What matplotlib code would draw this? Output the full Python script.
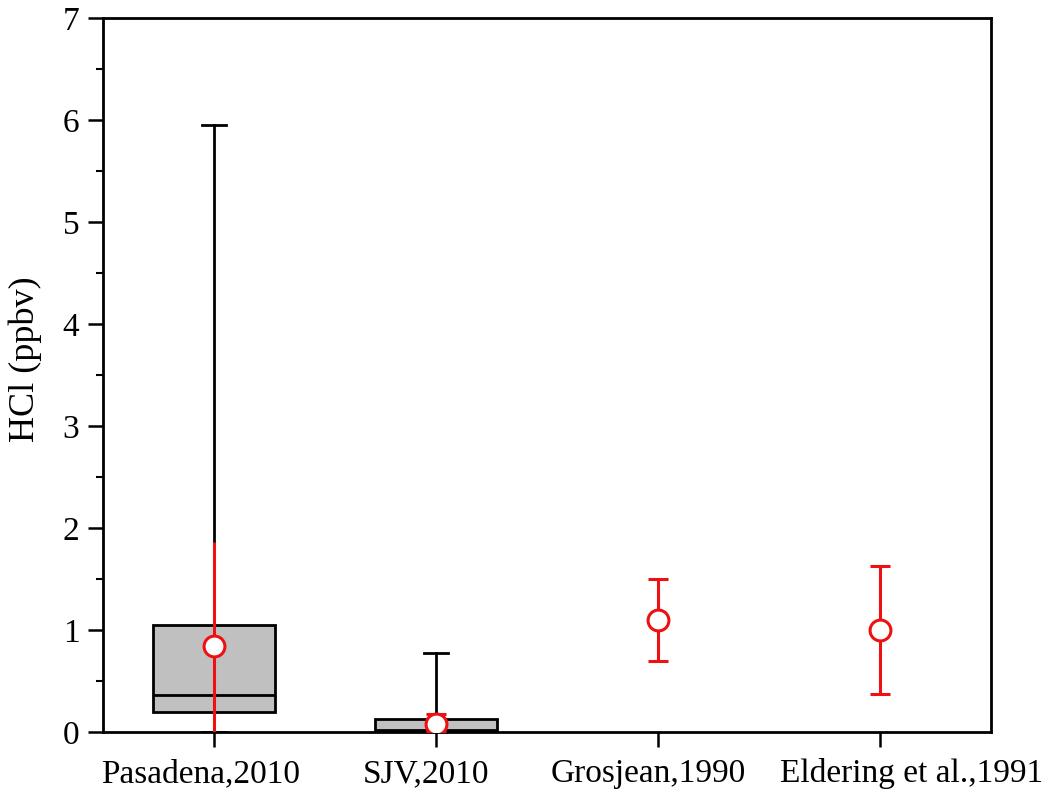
import matplotlib.pyplot as plt
import matplotlib.transforms as mtransforms
import numpy as np

plt.rcParams['font.family'] = ['Liberation Serif', 'DejaVu Serif']

# categories along the x axis
sites = ['Pasadena,2010', 'SJV,2010', 'Grosjean,1990', 'Eldering et al.,1991']

# box statistics (ppbv) for the two 2010 campaigns
box_pos = [0, 1]
box_q1 = [0.20, 0.0]
box_med = [0.36, 0.02]
box_q3 = [1.05, 0.13]
box_lo = [0.0, 0.0]
box_hi = [5.95, 0.77]

# mean and error range (red) for all four
mean_val = [0.84, 0.08, 1.10, 1.00]
err_lo = [0.0, 0.0, 0.70, 0.37]
err_hi = [1.86, 0.18, 1.50, 1.63]

fig, ax = plt.subplots(figsize=(10.5, 8.07), dpi=100)
fig.subplots_adjust(left=0.098, right=0.944, top=0.978, bottom=0.093)

stats = []
for i in range(len(box_pos)):
    stats.append(dict(med=box_med[i], q1=box_q1[i], q3=box_q3[i],
                      whislo=box_lo[i], whishi=box_hi[i], fliers=[]))
ax.bxp(stats, positions=box_pos, widths=0.55, patch_artist=True, showfliers=False,
       boxprops=dict(facecolor='#c0c0c0', edgecolor='black', linewidth=2),
       medianprops=dict(color='black', linewidth=2),
       whiskerprops=dict(color='black', linewidth=2),
       capprops=dict(color='black', linewidth=2),
       capwidths=[0.11, 0.11])

x = np.arange(len(sites))
mean_val = np.array(mean_val)
yerr = [mean_val - np.array(err_lo), np.array(err_hi) - mean_val]
caps = [False, True, True, True]
for i in range(len(sites)):
    ax.errorbar(x[i], mean_val[i], yerr=[[yerr[0][i]], [yerr[1][i]]], fmt='o',
                color='#ee1111', ecolor='#ee1111', elinewidth=2.2,
                capsize=7.5 if caps[i] else 0, capthick=2.2,
                markersize=15, markerfacecolor='white', markeredgewidth=2.2,
                zorder=5)

ax.set_xlim(-0.5, 3.5)
ax.set_ylim(0, 7)
ax.set_xticks(x)
ax.set_xticklabels(sites)
ax.set_yticks(range(8))
ax.set_yticks(np.arange(0.5, 7, 1), minor=True)
ax.tick_params(axis='both', which='major', direction='out', length=11, width=1.8, labelsize=24)
ax.tick_params(axis='y', which='minor', direction='out', length=5, width=1.5)
ax.tick_params(axis='x', pad=8)
ax.tick_params(axis='y', pad=6)
for sp in ax.spines.values():
    sp.set_linewidth(2)

# labels in the original sit slightly off their ticks
shifts = [-13, -10, -10, 31]
for lbl, dx in zip(ax.get_xticklabels(), shifts):
    lbl.set_transform(lbl.get_transform() + mtransforms.ScaledTranslation(dx / 100, 0, fig.dpi_scale_trans))

ax.set_ylabel('HCl (ppbv)', fontsize=26)
ax.yaxis.set_label_coords(-0.069, 0.522)

plt.savefig('out.png', dpi=100)
